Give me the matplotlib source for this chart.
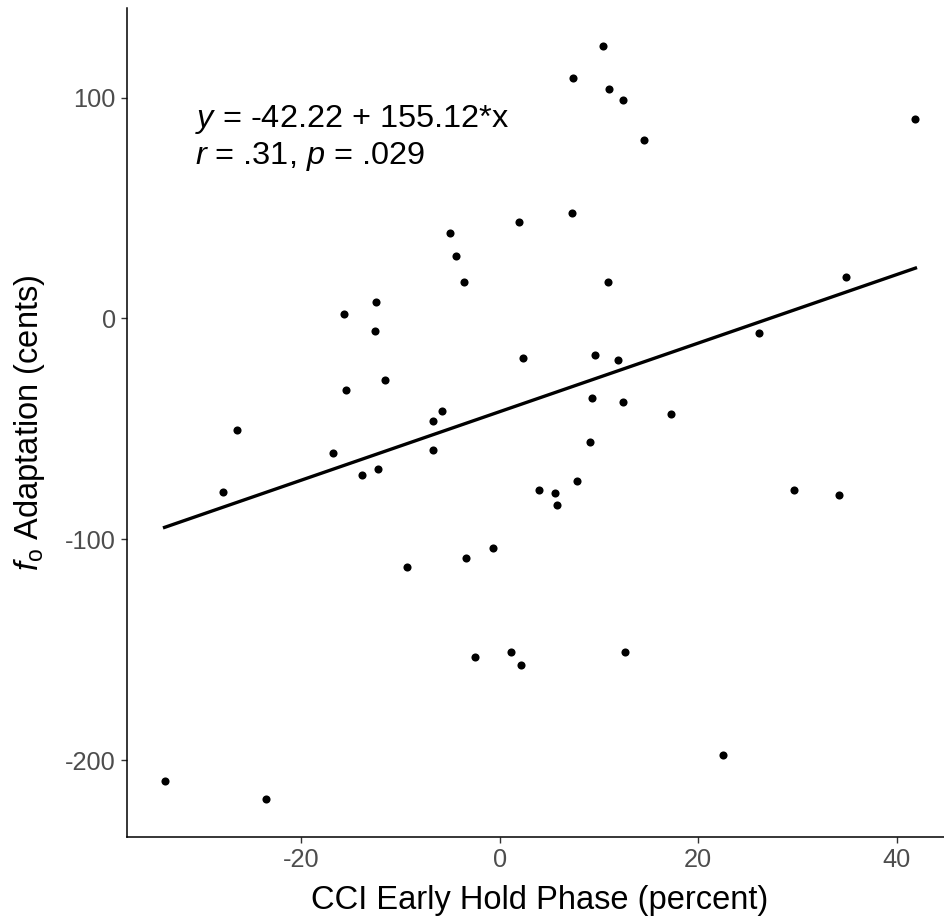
import numpy as np
import matplotlib
matplotlib.use("Agg")
import matplotlib.pyplot as plt

plt.rcParams['font.family'] = ['Liberation Sans', 'DejaVu Sans']
plt.rcParams['mathtext.fontset'] = 'custom'
plt.rcParams['mathtext.rm'] = 'Liberation Sans'
plt.rcParams['mathtext.it'] = 'Liberation Sans:italic'

# CCI early hold phase (percent) vs f0 adaptation (cents)
cci = [1.9, -5.0, -4.4, -3.6, -12.5, -15.7, -12.6, 10.4, 7.4, 11.0,
       12.4, 14.5, 41.9, 7.3, 10.9, 34.9, 26.1, -26.5, -15.5, -11.6,
       2.3, -5.8, -6.7, -16.8, -6.7, -12.3, -13.9, -27.9, 3.9, -9.4,
       -3.4, -0.7, 9.6, 11.9, 9.3, 12.4, 17.3, 9.1, 7.8, 5.6,
       5.8, 29.7, 34.2, -33.8, -23.6, -2.5, 1.1, 2.1, 12.6, 22.5]
adapt = [43.7, 38.6, 28.4, 16.7, 7.2, 1.9, -5.6, 123.5, 108.7, 104.1,
         99.1, 81.0, 90.5, 47.6, 16.7, 18.6, -6.6, -50.5, -32.3, -28.1,
         -18.0, -41.9, -46.3, -60.8, -59.4, -68.3, -70.7, -78.4, -77.8, -112.5,
         -108.3, -104.2, -16.4, -18.9, -36.1, -37.7, -43.3, -56.0, -73.8, -79.2,
         -84.3, -77.8, -80.0, -209.6, -217.8, -153.4, -151.1, -157.0, -151.1, -197.6]

# regression as reported (x as proportion)
intercept = -42.22
slope = 155.12

x = np.array(cci)
y = np.array(adapt)

fig = plt.figure(figsize=(9.45, 9.18), dpi=100)
# panel runs slightly past the right edge of the picture, as in the original
ax = fig.add_axes([127 / 945, 81 / 918, 826 / 945, 829 / 918])

ax.scatter(x, y, s=34, color='black', zorder=3, linewidths=0)

xs = np.linspace(x.min(), x.max(), 100)
ax.plot(xs, intercept + slope * xs / 100, color='black', lw=2.4, zorder=2)

# ggplot-style 5% expansion
xr = x.max() - x.min()
yr = y.max() - y.min()
ax.set_xlim(x.min() - 0.05 * xr, x.max() + 0.05 * xr)
ax.set_ylim(y.min() - 0.05 * yr, y.max() + 0.05 * yr)

ax.set_xticks([-20, 0, 20, 40])
ax.set_yticks([-200, -100, 0, 100])
ax.set_xticklabels(['-20', '0', '20', '40'])
ax.set_yticklabels(['-200', '-100', '0', '100'])

for side in ['top', 'right']:
    ax.spines[side].set_visible(False)
for side in ['left', 'bottom']:
    ax.spines[side].set_linewidth(1.1)
ax.tick_params(axis='both', colors='#333333', labelcolor='#4D4D4D',
               labelsize=18.3, length=4, width=1.0, pad=4)

ax.set_xlabel('CCI Early Hold Phase (percent)', fontsize=23.5, labelpad=9)
ax.set_ylabel(r'$\mathit{f}_{\mathrm{o}}$ Adaptation (cents)', fontsize=23.5, labelpad=13)

ax.text(0.082, 0.857, r'$\mathit{y}$ = -42.22 + 155.12*x', transform=ax.transAxes,
        fontsize=23.4, va='baseline', ha='left')
ax.text(0.082, 0.812, r'$\mathit{r}$ = .31, $\mathit{p}$ = .029', transform=ax.transAxes,
        fontsize=23.4, va='baseline', ha='left')

fig.savefig('out.png', dpi=100)
